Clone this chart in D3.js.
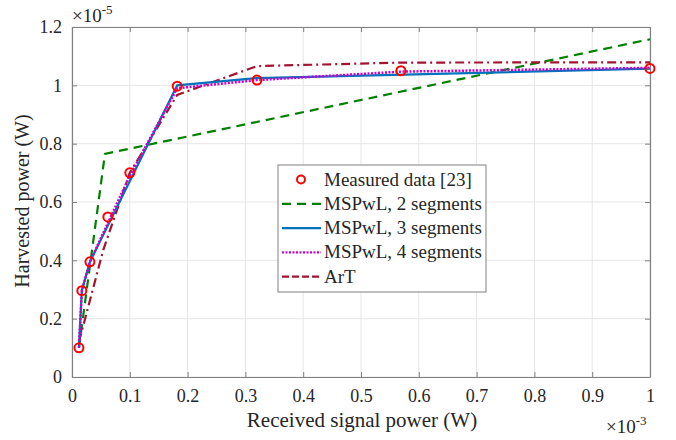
<!DOCTYPE html>
<html>
<head>
<meta charset="utf-8">
<script src="https://cdn.jsdelivr.net/npm/d3@7"></script>
<style>
  body { margin: 0; background: #fff; }
  svg text { font-family: "Liberation Serif", "DejaVu Serif", serif; fill: #262626; }
</style>
</head>
<body>
<div id="chart"></div>
<script>
// values in units of 1e-3 W (x) and 1e-5 W (y)
var measX = [0.012, 0.017, 0.031, 0.062, 0.1, 0.182, 0.32, 0.569, 1.0];
var measY = [0.10, 0.296, 0.395, 0.549, 0.70, 0.997, 1.018, 1.05, 1.058];

var seg2X = [0.012, 0.057, 1.0];
var seg2Y = [0.10, 0.765, 1.158];

var seg3X = [0.012, 0.017, 0.031, 0.182, 0.32, 1.0];
var seg3Y = [0.10, 0.296, 0.395, 1.0, 1.025, 1.057];

var seg4X = [0.012, 0.017, 0.031, 0.1, 0.182, 0.32, 0.569, 1.0];
var seg4Y = [0.10, 0.296, 0.395, 0.69, 0.99, 1.018, 1.047, 1.06];

var artX = [0.012, 0.054, 0.1, 0.182, 0.32, 0.569, 1.0];
var artY = [0.12, 0.435, 0.70, 0.967, 1.066, 1.078, 1.079];

var xTicks = [0, 0.1, 0.2, 0.3, 0.4, 0.5, 0.6, 0.7, 0.8, 0.9, 1];
var yTicks = [0, 0.2, 0.4, 0.6, 0.8, 1, 1.2];

var legendLabels = ["Measured data [23]", "MSPwL, 2 segments", "MSPwL, 3 segments", "MSPwL, 4 segments", "ArT"];

var width = 676, height = 440;
var mLeft = 72, mRight = 650, mTop = 27, mBottom = 377;

var svg = d3.select("#chart").append("svg")
    .attr("width", width)
    .attr("height", height)

var x = d3.scaleLinear().domain([0, 1]).range([mLeft, mRight])
var y = d3.scaleLinear().domain([0, 1.2]).range([mBottom, mTop])

// grid
svg.append("g").selectAll("line").data(xTicks).enter().append("line")
    .attr("x1", function(d) { return x(d) }).attr("x2", function(d) { return x(d) })
    .attr("y1", mTop).attr("y2", mBottom)
    .attr("stroke", "#e6e6e6").attr("stroke-width", 1)
svg.append("g").selectAll("line").data(yTicks).enter().append("line")
    .attr("y1", function(d) { return y(d) }).attr("y2", function(d) { return y(d) })
    .attr("x1", mLeft).attr("x2", mRight)
    .attr("stroke", "#e6e6e6").attr("stroke-width", 1)

// axes (box with inward ticks)
var fmt = function(d) { return d3.format("~g")(d) }
svg.append("g").attr("transform", "translate(0," + mBottom + ")")
    .call(d3.axisBottom(x).tickValues(xTicks).tickFormat(fmt).tickSizeInner(-5).tickSizeOuter(0).tickPadding(12))
svg.append("g").attr("transform", "translate(0," + mTop + ")")
    .call(d3.axisTop(x).tickValues(xTicks).tickFormat("").tickSizeInner(-5).tickSizeOuter(0))
svg.append("g").attr("transform", "translate(" + mLeft + ",0)")
    .call(d3.axisLeft(y).tickValues(yTicks).tickFormat(fmt).tickSizeInner(-5).tickSizeOuter(0).tickPadding(10))
svg.append("g").attr("transform", "translate(" + mRight + ",0)")
    .call(d3.axisRight(y).tickValues(yTicks).tickFormat("").tickSizeInner(-5).tickSizeOuter(0))

svg.selectAll(".domain").attr("stroke", "#808080").attr("stroke-width", 1.2)
svg.selectAll(".tick line").attr("stroke", "#808080")
svg.selectAll(".tick text").style("font-size", "18px").attr("fill", "#262626")

// lines
function series(xs, ys) { return xs.map(function(v, i) { return [v, ys[i]] }) }
var line = d3.line().x(function(d) { return x(d[0]) }).y(function(d) { return y(d[1]) })

var plot = [
  { data: series(seg2X, seg2Y), color: "#008000", dash: "9,6", w: 2.2 },
  { data: series(artX, artY), color: "#A2142F", dash: "9,4,2,4", w: 2.2 },
  { data: series(seg3X, seg3Y), color: "#0072BD", dash: null, w: 2.2 },
  { data: series(seg4X, seg4Y), color: "#CC00CC", dash: "2,1.5", w: 2.5 }
]
plot.forEach(function(p) {
  svg.append("path").datum(p.data)
    .attr("d", line)
    .attr("fill", "none")
    .attr("stroke", p.color)
    .attr("stroke-width", p.w)
    .attr("stroke-dasharray", p.dash)
})

svg.append("g").selectAll("circle").data(series(measX, measY)).enter().append("circle")
    .attr("cx", function(d) { return x(d[0]) })
    .attr("cy", function(d) { return y(d[1]) })
    .attr("r", 4.5)
    .attr("fill", "none")
    .attr("stroke", "#ff0000")
    .attr("stroke-width", 2)

// exponents
var e5 = svg.append("text").attr("x", mLeft).attr("y", 22).style("font-size", "19px")
e5.append("tspan").text("×10")
e5.append("tspan").attr("dy", -8).style("font-size", "13px").text("-5")
var e3 = svg.append("text").attr("x", mRight - 44).attr("y", 433).style("font-size", "19px")
e3.append("tspan").text("×10")
e3.append("tspan").attr("dy", -8).style("font-size", "13px").text("-3")

// axis labels
svg.append("text").attr("x", 362).attr("y", 427)
    .attr("text-anchor", "middle").style("font-size", "21px")
    .text("Received signal power (W)")
svg.append("text")
    .attr("transform", "translate(29,201) rotate(-90)")
    .attr("text-anchor", "middle").style("font-size", "20px")
    .text("Harvested power (W)")

// legend
var lg = svg.append("g")
lg.append("rect").attr("x", 278).attr("y", 165).attr("width", 208).attr("height", 127)
    .attr("fill", "#fff").attr("stroke", "#808080").attr("stroke-width", 1)
var legStyles = [
  { color: "#ff0000", dash: null, marker: true },
  { color: "#008000", dash: "9,6" },
  { color: "#0072BD", dash: null },
  { color: "#CC00CC", dash: "2,1.5" },
  { color: "#A2142F", dash: "7,3" }
]
legendLabels.forEach(function(lab, i) {
  var yy = 179.5 + i * 24.3
  var s = legStyles[i]
  if (s.marker) {
    lg.append("circle").attr("cx", 301).attr("cy", yy).attr("r", 4)
      .attr("fill", "none").attr("stroke", s.color).attr("stroke-width", 2)
  } else {
    lg.append("line").attr("x1", 282).attr("x2", 321).attr("y1", yy).attr("y2", yy)
      .attr("stroke", s.color).attr("stroke-width", 2.2).attr("stroke-dasharray", s.dash)
  }
  lg.append("text").attr("x", 324).attr("y", yy + 6).style("font-size", "19px").text(lab)
})
</script>
</body>
</html>
